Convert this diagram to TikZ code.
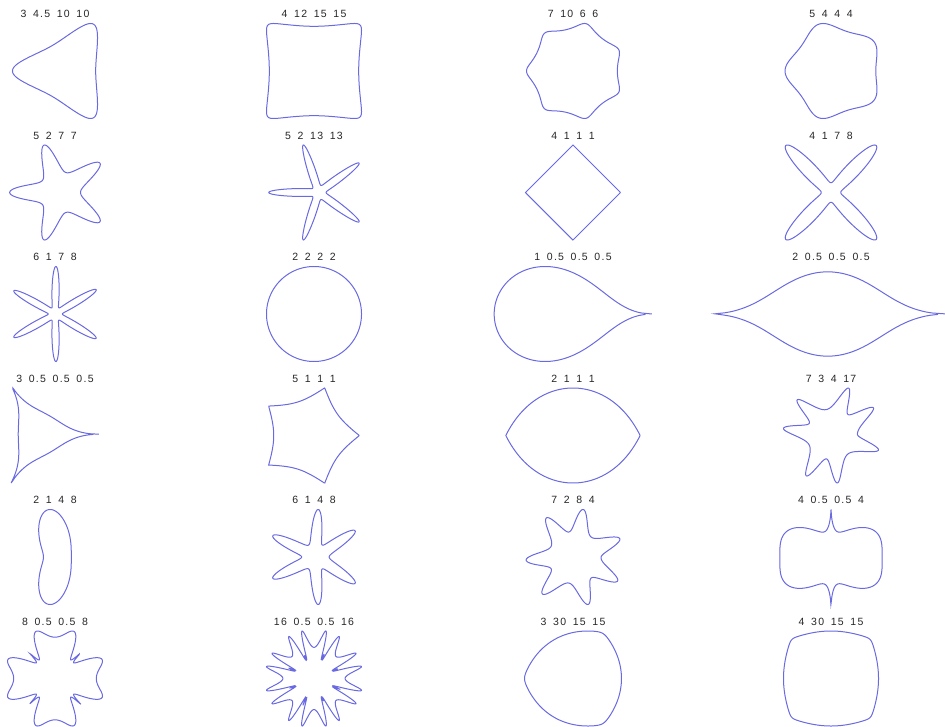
\documentclass[tikz,border=0pt]{standalone}
\usepackage{pgfplots}
\pgfplotsset{compat=1.18}
\usepackage{fontspec}
\setmainfont{Liberation Sans}[LetterSpace=12,WordSpace=1.6]
\definecolor{curve}{RGB}{105,105,225}
\tikzset{
  lab/.style={font=\fontsize{10.5}{12}\selectfont, text=black!85, inner sep=0pt},
  declare function={sfr(\t,\m,\a,\b,\c)=(abs(cos(deg(\m*\t/4)))^(\b)+abs(sin(deg(\m*\t/4)))^(\c))^(-1/\a);}
}
\pgfplotsset{
  sfcell/.style={hide axis, axis equal image, enlargelimits=false, scale only axis, width=232pt, height=95pt, anchor=center, clip=false},
  sfline/.style={draw=curve, line width=1pt, no markers, domain=0.000001:6.280001, samples=629, variable=\t, data cs=polar}
}
% #1 cx, #2 cy, #3 m, #4 n1, #5 n2, #6 n3, #7 node name
\newcommand\sfshape[7]{%
  \begin{axis}[sfcell, at={(#1pt,#2pt)}]
    \addplot[sfline] ({deg(\t)},{sfr(\t,#3,#4,#5,#6)});
  \end{axis}
  \node[lab] (#7) at (#1pt,#2pt+57pt) {#3 #4 #5 #6};
}
\begin{document}
\begin{tikzpicture}
\useasboundingbox (0,0) rectangle (945pt,-727pt);
% row 1
\sfshape{55}{-71}{3}{4.5}{10}{10}{a1}
\sfshape{314}{-71}{4}{12}{15}{15}{a2}
\sfshape{573}{-71}{7}{10}{6}{6}{a3}
\sfshape{831}{-71}{5}{4}{4}{4}{a4}
% row 2
\sfshape{55}{-192.5}{5}{2}{7}{7}{b1}
\sfshape{314}{-192.5}{5}{2}{13}{13}{b2}
\sfshape{573}{-192.5}{4}{1}{1}{1}{b3}
\sfshape{831}{-192.5}{4}{1}{7}{8}{b4}
% row 3
\sfshape{55}{-314}{6}{1}{7}{8}{c1}
\sfshape{314}{-314}{2}{2}{2}{2}{c2}
\sfshape{573}{-314}{1}{0.5}{0.5}{0.5}{c3}
\sfshape{831}{-314}{2}{0.5}{0.5}{0.5}{c4}
% row 4
\sfshape{55}{-435.5}{3}{0.5}{0.5}{0.5}{d1}
\sfshape{314}{-435.5}{5}{1}{1}{1}{d2}
\sfshape{573}{-435.5}{2}{1}{1}{1}{d3}
\sfshape{831}{-435.5}{7}{3}{4}{17}{d4}
% row 5
\sfshape{55}{-557}{2}{1}{4}{8}{e1}
\sfshape{314}{-557}{6}{1}{4}{8}{e2}
\sfshape{573}{-557}{7}{2}{8}{4}{e3}
\sfshape{831}{-557}{4}{0.5}{0.5}{4}{e4}
% row 6
\sfshape{55}{-678.5}{8}{0.5}{0.5}{8}{f1}
\sfshape{314}{-678.5}{16}{0.5}{0.5}{16}{f2}
\sfshape{573}{-678.5}{3}{30}{15}{15}{f3}
\sfshape{831}{-678.5}{4}{30}{15}{15}{f4}
\end{tikzpicture}
\end{document}
